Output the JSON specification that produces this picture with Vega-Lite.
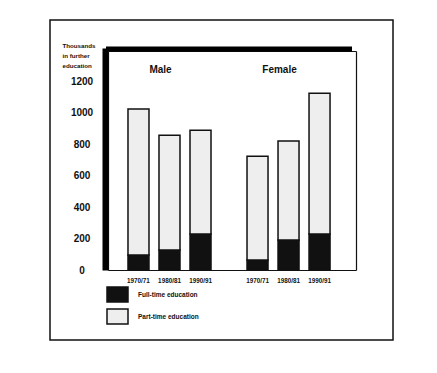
{
  "$schema": "https://vega.github.io/schema/vega-lite/v6.json",
  "width": 343,
  "height": 320,
  "autosize": {"type": "none"},
  "padding": {"left": 50, "top": 20, "right": 44, "bottom": 33},
  "background": "white",
  "config": {
    "view": {"stroke": "#111111", "strokeWidth": 1.5},
    "font": "Liberation Sans",
    "axis": {"grid": false, "labelFont": "Liberation Sans", "titleFont": "Liberation Sans"},
    "legend": {"labelFont": "Liberation Sans"},
    "text": {"font": "Liberation Sans"}
  },
  "data": {
    "values": [
      {"sex": "Male", "year": "1970/71", "type": "Full-time education", "value": 95},
      {"sex": "Male", "year": "1970/71", "type": "Part-time education", "value": 928},
      {"sex": "Male", "year": "1980/81", "type": "Full-time education", "value": 127},
      {"sex": "Male", "year": "1980/81", "type": "Part-time education", "value": 729},
      {"sex": "Male", "year": "1990/91", "type": "Full-time education", "value": 229},
      {"sex": "Male", "year": "1990/91", "type": "Part-time education", "value": 659},
      {"sex": "Female", "year": "1970/71", "type": "Full-time education", "value": 64},
      {"sex": "Female", "year": "1970/71", "type": "Part-time education", "value": 659},
      {"sex": "Female", "year": "1980/81", "type": "Full-time education", "value": 191},
      {"sex": "Female", "year": "1980/81", "type": "Part-time education", "value": 629},
      {"sex": "Female", "year": "1990/91", "type": "Full-time education", "value": 229},
      {"sex": "Female", "year": "1990/91", "type": "Part-time education", "value": 894}
    ]
  },
  "resolve": {"axis": {"x": "independent", "y": "independent"}},
  "layer": [
    {
      "mark": {"type": "bar", "stroke": "#111111", "strokeWidth": 1.5},
      "encoding": {
        "x": {
          "field": "sex", "type": "nominal", "sort": ["Male", "Female"],
          "scale": {"range": [58, 306], "paddingInner": 0.3025, "paddingOuter": 0.193, "align": 0.435},
          "axis": {"orient": "top", "offset": -31, "title": null, "ticks": false, "tickSize": 0, "labelPadding": -23, "labelOffset": -9, "labelAngle": 0, "labelFontSize": 10, "labelFontWeight": "bold", "labelColor": "#111111", "domainColor": "#111111", "domainWidth": 1.2}
        },
        "xOffset": {"field": "year", "type": "nominal", "scale": {"paddingInner": 0.3226, "paddingOuter": 0}},
        "y": {
          "field": "value", "type": "quantitative", "stack": "zero",
          "scale": {"domain": [0, 1392], "range": [250, 31], "nice": false},
          "axis": {"orient": "left", "offset": -58, "values": [0, 200, 400, 600, 800, 1000, 1200], "format": "d", "ticks": false, "tickSize": 0, "grid": false, "labelPadding": 26.5, "labelAlign": "center", "labelFontSize": 10, "labelFontWeight": "bold", "labelColor": "#111111", "domainColor": "#111111", "domainWidth": 1.2, "title": ["Thousands", "in further", "education"], "titleAngle": 0, "titleAlign": "left", "titleBaseline": "top", "titleX": -46, "titleY": 22, "titleFontSize": 6.2, "titleFontWeight": "bold", "titleLineHeight": 10, "titleColor": "#111111"}
        },
        "order": {"field": "type", "sort": "ascending"},
        "color": {
          "field": "type", "type": "nominal",
          "scale": {"domain": ["Full-time education", "Part-time education"], "range": ["#111111", "#eeeeee"]},
          "legend": {"orient": "none", "legendX": 56, "legendY": 263, "title": null, "direction": "vertical", "symbolType": "M-1,-0.714H1V0.714H-1Z", "symbolSize": 441, "symbolStrokeColor": "#111111", "symbolStrokeWidth": 1.5, "symbolOpacity": 1, "labelFontSize": 6.5, "labelFontWeight": "bold", "labelOffset": 9, "rowPadding": 0, "padding": 0, "labelColor": "#111111"}
        }
      }
    },
    {
      "transform": [{"filter": "datum.type === 'Full-time education' && datum.sex === 'Male'"}],
      "mark": {"type": "text", "baseline": "top", "dy": 8, "fontSize": 6.3, "fontWeight": "bold", "color": "#111111"},
      "encoding": {
        "x": {"field": "sex", "type": "nominal", "sort": ["Male", "Female"], "axis": {"orient": "top", "offset": -28.5, "labels": false, "ticks": false, "title": null, "domainColor": "#000000", "domainWidth": 5, "domainCap": "square", "domainDash": [241, 50]}},
        "xOffset": {"field": "year", "type": "nominal"},
        "y": {"datum": 0, "type": "quantitative", "axis": {"orient": "left", "offset": -55, "labels": false, "ticks": false, "grid": false, "title": null, "domainColor": "#000000", "domainWidth": 6, "domainCap": "square", "domainDash": [219, 3], "domainDashOffset": 219}},
        "text": {"field": "year"}
      }
    },
    {
      "transform": [{"filter": "datum.type === 'Full-time education' && datum.sex === 'Female'"}],
      "mark": {"type": "text", "baseline": "top", "dy": 8, "fontSize": 6.3, "fontWeight": "bold", "color": "#111111"},
      "encoding": {
        "x": {"field": "sex", "type": "nominal", "sort": ["Male", "Female"], "axis": {"orient": "bottom", "offset": -70, "labels": false, "ticks": false, "title": null, "domainColor": "#111111", "domainWidth": 1.2}},
        "xOffset": {"field": "year", "type": "nominal"},
        "y": {"datum": 0, "type": "quantitative", "axis": {"orient": "right", "offset": -37, "labels": false, "ticks": false, "grid": false, "title": null, "domainColor": "#111111", "domainWidth": 1.2}},
        "text": {"field": "year"}
      }
    }
  ]
}
